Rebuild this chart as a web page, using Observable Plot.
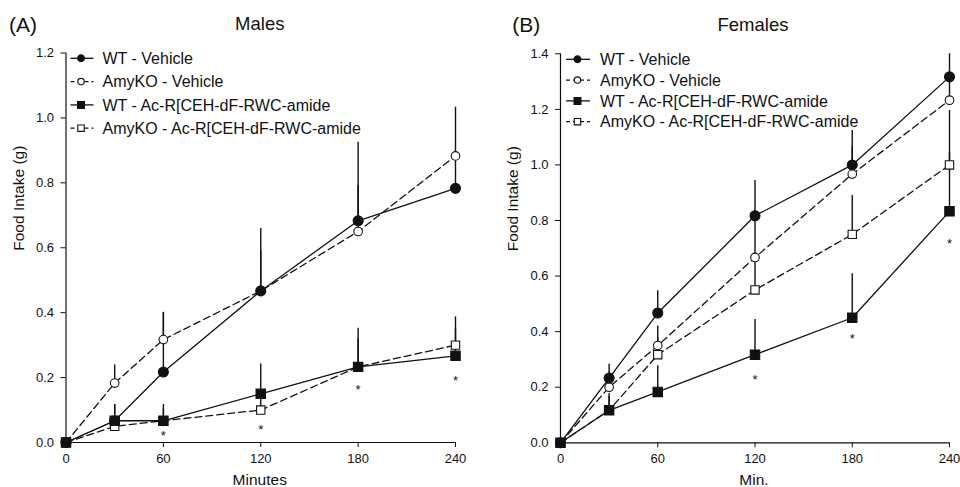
<!DOCTYPE html>
<html><head><meta charset="utf-8">
<script src="https://cdn.jsdelivr.net/npm/d3@7"></script>
<script src="https://cdn.jsdelivr.net/npm/@observablehq/plot@0.6"></script>
<style>
body{margin:0;background:#fff;}
#wrap{display:flex;width:960px;height:487px;overflow:hidden;}
#wrap svg{display:block;flex:none;}
</style></head><body><div id="wrap"></div>
<script>
// ---- data ----
const minutes = [0, 30, 60, 120, 180, 240];
const seriesNames = ["WT - Vehicle", "AmyKO - Vehicle", "WT - Ac-R[CEH-dF-RWC-amide", "AmyKO - Ac-R[CEH-dF-RWC-amide"];
const xTicks = [0, 60, 120, 180, 240];
const maleYTicks = [0, 0.2, 0.4, 0.6, 0.8, 1.0, 1.2];
const femaleYTicks = [0, 0.2, 0.4, 0.6, 0.8, 1.0, 1.2, 1.4];

// Males (mean, SEM)
const maleWTVehicle = [0, 0.067, 0.217, 0.467, 0.683, 0.783];
const maleWTVehicleSem = [0, 0.05, 0.183, 0.192, 0.242, 0.09];
const maleKOVehicle = [0, 0.183, 0.317, 0.467, 0.65, 0.883];
const maleKOVehicleSem = [0, 0.056, 0.084, 0.123, 0.142, 0.15];
const maleWTPeptide = [0, 0.067, 0.067, 0.15, 0.233, 0.267];
const maleWTPeptideSem = [0, 0.05, 0.05, 0.092, 0.119, 0.12];
const maleKOPeptide = [0, 0.05, 0.067, 0.1, 0.233, 0.3];
const maleKOPeptideSem = [0, 0.02, 0.035, 0.055, 0.086, 0.05];
const maleStarMinutes = [60, 120, 180, 240];
const maleStarY = [0.031, 0.049, 0.173, 0.2];

// Females (mean, SEM)
const femaleWTVehicle = [0, 0.233, 0.467, 0.817, 1.0, 1.317];
const femaleWTVehicleSem = [0, 0.05, 0.08, 0.127, 0.124, 0.083];
const femaleKOVehicle = [0, 0.2, 0.35, 0.667, 0.967, 1.233];
const femaleKOVehicleSem = [0, 0.05, 0.07, 0.16, 0.1, 0.1];
const femaleWTPeptide = [0, 0.117, 0.183, 0.317, 0.45, 0.833];
const femaleWTPeptideSem = [0, 0.06, 0.094, 0.127, 0.158, 0.21];
const femaleKOPeptide = [0, 0.117, 0.317, 0.55, 0.75, 1.0];
const femaleKOPeptideSem = [0, 0.05, 0.06, 0.13, 0.14, 0.196];
const femaleStarMinutes = [120, 180, 240];
const femaleStarY = [0.236, 0.384, 0.728];

// ---- styling ----
const INK = "#111";
const FONT = "'Liberation Sans', Arial, Helvetica, sans-serif";
const styles = [
  {symbol: "circle", fill: INK, dash: null, r: 5, lr: 3.4},
  {symbol: "circle", fill: "white", dash: "7,4", r: 4.3, lr: 3.2},
  {symbol: "square", fill: INK, dash: null, r: 5.3, lr: 3.9},
  {symbol: "square", fill: "white", dash: "7,4", r: 4.7, lr: 3.6}
];
const drawOrder = [1, 0, 3, 2];

function buildRows(means, sems) {
  const rows = [];
  means.forEach((m, s) => {
    minutes.forEach((t, i) => {
      rows.push({series: s, minute: t, value: m[i], upper: m[i] + sems[s][i], sem: sems[s][i]});
    });
  });
  return rows;
}

function legendMark(cfg) {
  return (index, scales, values, dim) => {
    const g = d3.create("svg:g");
    styles.forEach((s, i) => {
      const y = dim.marginTop + cfg.y0 + i * cfg.gap;
      const L = dim.marginLeft;
      g.append("line")
        .attr("x1", L + cfg.x0).attr("x2", L + cfg.x1)
        .attr("y1", y).attr("y2", y)
        .attr("stroke", INK).attr("stroke-width", 1.3)
        .attr("stroke-dasharray", s.dash ? "4,3" : null);
      const type = s.symbol === "circle" ? d3.symbolCircle : d3.symbolSquare;
      g.append("path")
        .attr("transform", `translate(${L + cfg.xm},${y})`)
        .attr("d", d3.symbol(type, s.lr * s.lr * Math.PI)())
        .attr("fill", s.fill).attr("stroke", INK).attr("stroke-width", 1.1);
      g.append("text")
        .attr("x", L + cfg.xt).attr("y", y).attr("dy", "0.36em")
        .attr("text-anchor", "start")
        .attr("font-size", 16).attr("fill", INK)
        .attr("font-family", FONT)
        .text(seriesNames[i]);
    });
    return g.node();
  };
}

function panel(opts) {
  const rows = buildRows(opts.means, opts.sems);
  const stars = opts.starMinutes.map((t, i) => ({minute: t, y: opts.starY[i]}));
  const marks = [
    Plot.ruleX([0], {stroke: INK, strokeWidth: 1.2}),
    Plot.ruleY([0], {stroke: INK, strokeWidth: 1.2})
  ];
  drawOrder.forEach(s => {
    marks.push(Plot.line(rows.filter(d => d.series === s), {
      x: "minute", y: "value", stroke: INK, strokeWidth: 1.3,
      strokeDasharray: styles[s].dash
    }));
  });
  marks.push(Plot.ruleX(rows.filter(d => d.sem > 0), {
    x: "minute", y1: "value", y2: "upper", stroke: INK, strokeWidth: 1.4
  }));
  drawOrder.forEach(s => {
    marks.push(Plot.dot(rows.filter(d => d.series === s), {
      x: "minute", y: "value", symbol: styles[s].symbol, r: styles[s].r,
      fill: styles[s].fill, stroke: INK, strokeWidth: 1.1
    }));
  });
  marks.push(Plot.text(stars, {x: "minute", y: "y", text: () => "*", fontSize: 13, dy: 3, fill: INK}));
  marks.push(legendMark(opts.legend));
  marks.push(Plot.text([opts.tag], {frameAnchor: "top-left", text: d => d, dx: opts.tagDx, dy: -21.5,
    textAnchor: "start", lineAnchor: "bottom", fontSize: 21, fill: INK}));
  marks.push(Plot.text([opts.title], {frameAnchor: "top", text: d => d, dx: opts.titleDx, dy: -23,
    lineAnchor: "bottom", fontSize: 18.5, fill: INK}));
  marks.push(Plot.text([opts.xLabel], {frameAnchor: "bottom", text: d => d, dx: -1, dy: 42,
    lineAnchor: "bottom", fontSize: 15.5, fill: INK}));
  marks.push(Plot.text(["Food Intake (g)"], {frameAnchor: "left", text: d => d, dx: opts.yLabelDx, dy: 3,
    rotate: -90, lineAnchor: "middle", fontSize: 15.5, fill: INK}));

  return Plot.plot({
    width: 480, height: 487,
    marginLeft: opts.marginLeft, marginRight: opts.marginRight,
    marginTop: opts.marginTop, marginBottom: opts.marginBottom,
    style: {fontFamily: FONT, fontSize: "13px", color: INK, background: "white", overflow: "visible"},
    x: {domain: [0, 240], ticks: xTicks, tickSize: 5, tickPadding: 6, label: null},
    y: {domain: opts.yDomain, ticks: opts.yTicks, tickFormat: d3.format(".1f"), tickSize: 5, tickPadding: 7, label: null},
    marks
  });
}

const wrap = document.getElementById("wrap");
wrap.append(panel({
  means: [maleWTVehicle, maleKOVehicle, maleWTPeptide, maleKOPeptide],
  sems: [maleWTVehicleSem, maleKOVehicleSem, maleWTPeptideSem, maleKOPeptideSem],
  starMinutes: maleStarMinutes, starY: maleStarY,
  yDomain: [0, 1.2], yTicks: maleYTicks,
  marginLeft: 65.5, marginRight: 25, marginTop: 52.5, marginBottom: 45,
  legend: {y0: 5.8, gap: 23.3, x0: 5, x1: 28, xm: 15.5, xt: 37},
  tag: "(A)", tagDx: -57, title: "Males", titleDx: -1, xLabel: "Minutes", yLabelDx: -47
}));
wrap.append(panel({
  means: [femaleWTVehicle, femaleKOVehicle, femaleWTPeptide, femaleKOPeptide],
  sems: [femaleWTVehicleSem, femaleKOVehicleSem, femaleWTPeptideSem, femaleKOPeptideSem],
  starMinutes: femaleStarMinutes, starY: femaleStarY,
  yDomain: [0, 1.4], yTicks: femaleYTicks,
  marginLeft: 80, marginRight: 11, marginTop: 53.3, marginBottom: 44.7,
  legend: {y0: 6, gap: 20.8, x0: 6, x1: 30, xm: 17.5, xt: 40},
  tag: "(B)", tagDx: -48.3, title: "Females", titleDx: -2, xLabel: "Min.", yLabelDx: -47.5
}));
</script></body></html>
